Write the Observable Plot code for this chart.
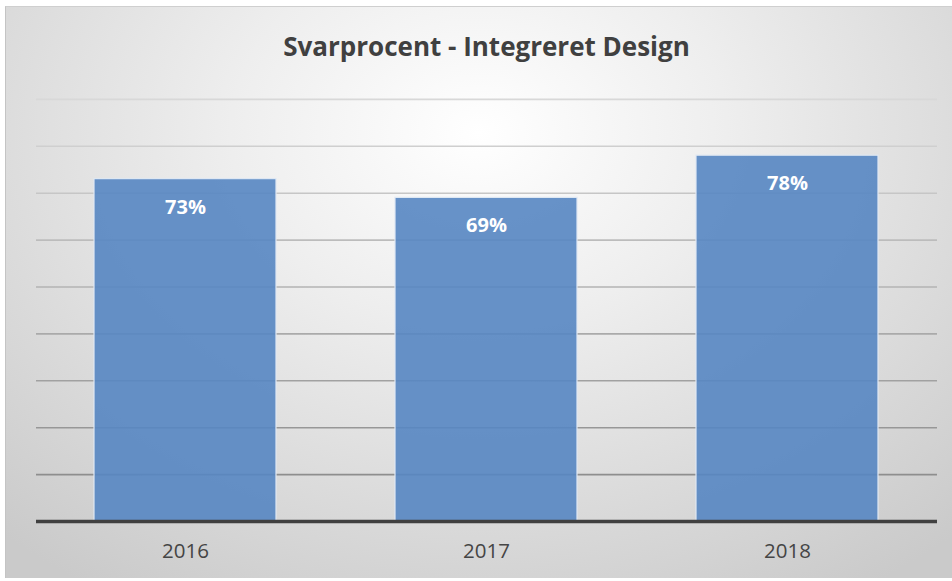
<!DOCTYPE html>
<html>
<head>
<meta charset="utf-8">
<script src="https://cdn.jsdelivr.net/npm/d3@7"></script>
<script src="https://cdn.jsdelivr.net/npm/@observablehq/plot@0.6"></script>
<style>
  html, body { margin: 0; padding: 0; background: #ffffff; }
  #wrap { position: relative; width: 952px; height: 581px; overflow: hidden; }
  #bg { position: absolute; left: 5px; top: 6px; width: 947px; height: 572px;
        background: radial-gradient(ellipse 75% 95% at 50% 22%, #ffffff 0%, #eeeeee 35%, #cacaca 100%);
        border-left: 1px solid #c4c4c4; border-top: 1px solid #cfcfcf; box-sizing: border-box; }
  #title { position: absolute; left: 36px; width: 901px; top: 29px; text-align: center;
           font-family: "Open Sans", sans-serif; font-weight: bold; font-size: 26px; line-height: 34px;
           color: #404040; }
  #chart { position: absolute; left: 0; top: 0; }
</style>
</head>
<body>
<div id="wrap">
  <div id="bg"></div>
  <div id="chart"></div>
  <div id="title">Svarprocent - Integreret Design</div>
</div>
<script>
const years = ["2016", "2017", "2018"];
const rates = [73, 69, 78];
const gridValues = [10, 20, 30, 40, 50, 60, 70, 80, 90];

const data = years.map((y, i) => ({year: y, rate: rates[i]}));
const gridColor = d3.scaleLinear().domain([10, 90]).range(["#8e8e8e", "#d8d8d8"]);

const chart = Plot.plot({
  width: 952,
  height: 581,
  marginLeft: 36,
  marginRight: 15,
  marginTop: 52,
  marginBottom: 60,
  style: {background: "transparent", fontFamily: "Open Sans, sans-serif"},
  x: {domain: years, paddingInner: 0.395, paddingOuter: 0.19, label: null},
  y: {domain: [0, 100], axis: null},
  marks: [
    Plot.ruleY(gridValues, {y: d => d, stroke: d => gridColor(d), strokeWidth: 1.6}),
    Plot.barY(data, {x: "year", y: "rate", fill: "#5686c2", fillOpacity: 0.9, stroke: "#dfe8f3", strokeWidth: 1.2}),
    Plot.ruleY([0], {stroke: "#404040", strokeWidth: 3.5}),
    Plot.text(data, {x: "year", y: "rate", text: d => d.rate + "%", fill: "white", fontWeight: "bold", fontSize: 20, dy: 28, lineAnchor: "middle"}),
    Plot.axisX({tickSize: 0, tickPadding: 22, fontSize: 20.5, fill: "#454545", label: null})
  ]
});
document.getElementById("chart").appendChild(chart);
</script>
</body>
</html>
